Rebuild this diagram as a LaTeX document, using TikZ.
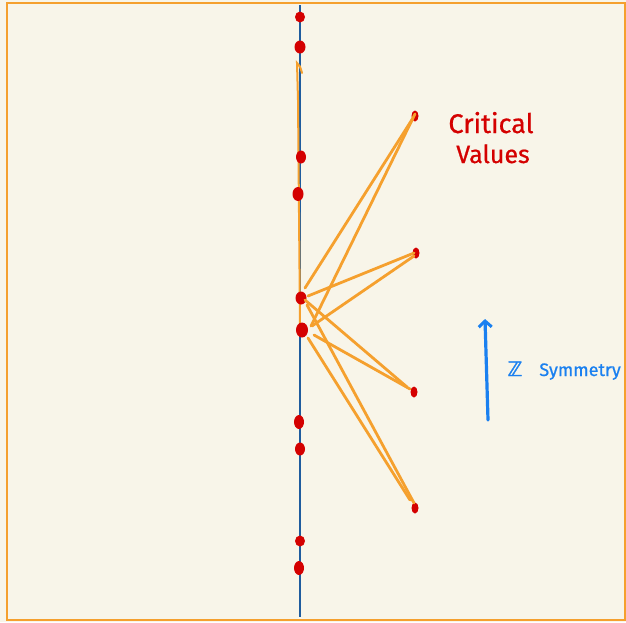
\documentclass[tikz,border=0pt]{standalone}
\usepackage{fontspec}
\setmainfont{Fira Sans}
\newfontfamily\hand{Fira Sans}[FakeBold=0.7]
\newfontfamily\zfont{DejaVu Sans}[FakeBold=1.5]
\usetikzlibrary{shapes.geometric,arrows.meta}
\definecolor{bg}{HTML}{F8F5E9}
\definecolor{frameor}{HTML}{F5A02E}
\definecolor{dotred}{HTML}{D40000}
\definecolor{axisblue}{HTML}{1F5C9E}
\definecolor{arrblue}{HTML}{1A80F0}
\tikzset{
  dot/.style={ellipse,fill=dotred,draw=none,inner sep=0pt,minimum width=10pt,minimum height=12pt},
  bigdot/.style={dot,minimum width=12pt,minimum height=15pt},
  cdot/.style={ellipse,fill=dotred,draw=none,inner sep=0pt,minimum width=7pt,minimum height=11pt},
  trace/.style={draw=frameor,line width=2.8pt,line cap=round},
  lbl/.style={text=dotred,font=\hand\fontsize{27}{30}\selectfont,inner sep=0pt},
  blbl/.style={text=arrblue,font=\hand\fontsize{18}{22}\selectfont,inner sep=0pt}
}
\begin{document}
\begin{tikzpicture}[x=1pt,y=-1pt]
\useasboundingbox (0,0) rectangle (626,622);
\fill[bg] (0,0) rectangle (626,622);
\draw[frameor,line width=2.6pt] (7,3) rectangle (625,620);
% axis
\coordinate (top) at (300,5);
\coordinate (bot) at (300,617);
\draw[axisblue,line width=2.6pt] (top) -- (bot);
% orange trace along axis
\coordinate (h1) at (302,73);
\coordinate (h2) at (297,63);
\coordinate (h3) at (298,100);
\coordinate (h4) at (300,326);
\draw[trace,line width=2pt] (h1) .. controls (300,66) .. (h2) -- (h3) -- (h4);
% axis dots
\node[dot,minimum height=11pt] (p1) at (300,17) {};
\node[dot,minimum width=11pt,minimum height=13pt] (p2) at (300,47) {};
\node[dot,minimum height=13pt] (p3) at (301,157) {};
\node[dot,minimum width=11pt,minimum height=14pt] (p4) at (298,194) {};
\node[bigdot,minimum width=11pt,minimum height=13pt] (p5) at (301,298) {};
\node[bigdot] (p6) at (302,330) {};
\node[dot,minimum height=14pt] (p7) at (299,422) {};
\node[dot,minimum height=13pt] (p8) at (300,449) {};
\node[dot,minimum height=11pt] (p9) at (300,541) {};
\node[dot,minimum height=14pt] (p10) at (299,568) {};
% critical values
\node[cdot] (c1) at (415,116) {};
\node[cdot] (c2) at (416,253) {};
\node[cdot] (c3) at (414,392) {};
\node[cdot] (c4) at (415,508) {};
% connectors
\draw[trace] ([shift={(4,-10)}]p5.center) -- ([shift={(-2,2)}]c1.center);
\draw[trace] ([shift={(9,-4)}]p6.center) -- ([shift={(0,-2)}]c1.center);
\draw[trace] ([shift={(7,-2)}]p5.center) -- ([shift={(-2,0)}]c2.center);
\draw[trace] ([shift={(10,-4)}]p6.center) -- ([shift={(-2,3)}]c2.center);
\draw[trace] ([shift={(4,2)}]p5.center) -- ([shift={(-7,-5)}]c3.center);
\draw[trace] ([shift={(12,5)}]p6.center) -- ([shift={(-4,-3)}]c3.center);
\draw[trace] ([shift={(6,7)}]p5.center) -- ([shift={(-1,-5)}]c4.center);
\draw[trace] ([shift={(6,8)}]p6.center) -- ([shift={(-5,-8)}]c4.center);
% labels
\node[lbl,anchor=base] (crit) at (491,133) {Critical};
\node[lbl,anchor=base,font=\hand\fontsize{25}{28}\selectfont] (vals) at (493,163) {Values};
% symmetry arrow
\coordinate (a0) at (488,420);
\coordinate (a1) at (485,319);
\draw[arrblue,line width=3.2pt,line cap=round,-{Straight Barb[length=6pt,width=13pt,line width=3pt]}] (a0) -- (a1);
\node[text=arrblue,inner sep=0pt,anchor=base,font=\zfont\fontsize{20}{22}\selectfont] (zz) at (515,376) {ℤ};
\node[blbl,anchor=base east] (sym) at (621,376) {Symmetry};
\end{tikzpicture}
\end{document}
